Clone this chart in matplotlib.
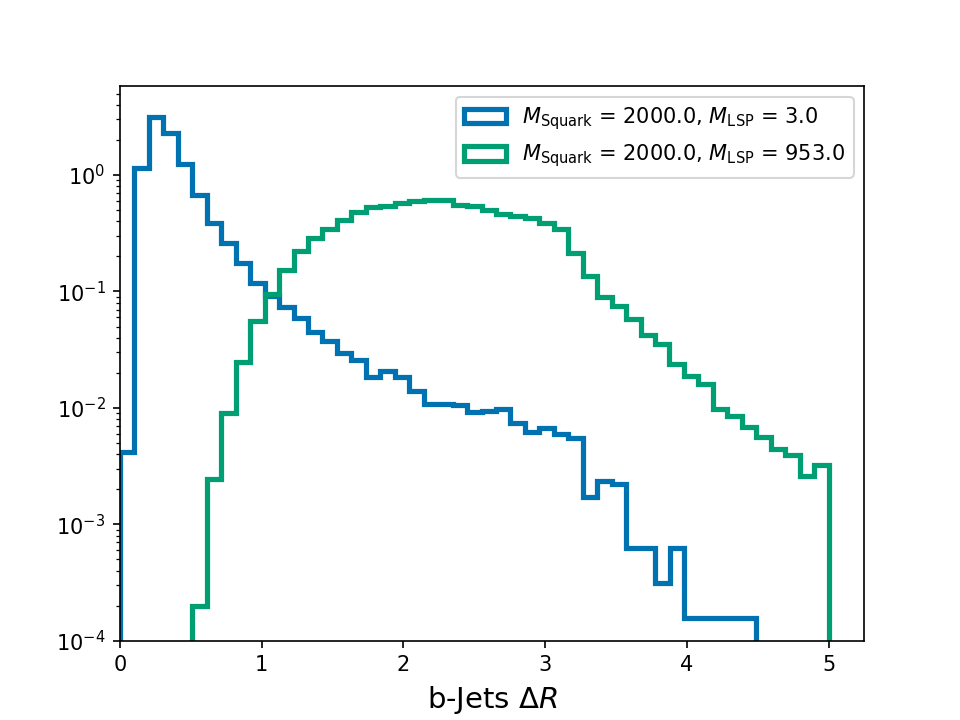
import numpy as np
import matplotlib
matplotlib.use("Agg")
import matplotlib.pyplot as plt

# Bin ranges (44 bins each)
blue_range = (0.0, 4.49)
green_range = (0.51, 5.0)
n_bins = 44

blue_values = [0.0042, 1.15, 3.12, 2.29, 1.24, 0.673, 0.387, 0.261, 0.176, 0.118,
               0.092, 0.073, 0.059, 0.0446, 0.0378, 0.0294, 0.026, 0.0183, 0.0209, 0.0183,
               0.0139, 0.0108, 0.0108, 0.0105, 0.0092, 0.0094, 0.0098, 0.0074, 0.0062, 0.0067,
               0.0060, 0.0055, 0.00171, 0.00238, 0.00223, 0.000624, 0.000624, 0.000312, 0.000624,
               0.000156, 0.000156, 0.000156, 0.000156, 0.000156]

green_values = [0.0002, 0.00246, 0.00906, 0.0249, 0.0561, 0.096, 0.153, 0.221, 0.288, 0.344,
                0.411, 0.478, 0.527, 0.545, 0.574, 0.593, 0.61, 0.605, 0.556, 0.542,
                0.501, 0.462, 0.447, 0.427, 0.384, 0.344, 0.212, 0.137, 0.0902, 0.0755,
                0.058, 0.0426, 0.0354, 0.0239, 0.0189, 0.0161, 0.0098, 0.0086, 0.0068, 0.0056,
                0.00445, 0.00397, 0.00262, 0.00326]

labels = [r'$M_{\mathrm{Squark}}$ = 2000.0, $M_{\mathrm{LSP}}$ = 3.0',
          r'$M_{\mathrm{Squark}}$ = 2000.0, $M_{\mathrm{LSP}}$ = 953.0']
colors = ['#0072B2', '#009E73']

fig, ax = plt.subplots(figsize=(6.4, 4.8), dpi=150)

for rng, vals, lab, col in [(blue_range, blue_values, labels[0], colors[0]),
                            (green_range, green_values, labels[1], colors[1])]:
    edges = np.linspace(rng[0], rng[1], n_bins + 1)
    centers = 0.5 * (edges[:-1] + edges[1:])
    ax.hist(centers, bins=edges, weights=vals, histtype='step', log=True,
            linewidth=2.5, color=col, label=lab)

ax.set_xlim(0, 5.25)
ax.set_ylim(1e-4, 5.77)
ax.set_xlabel(r'b-Jets $\Delta R$', fontsize=14)
ax.legend(loc='upper right')

fig.savefig('out.png', dpi=150)
